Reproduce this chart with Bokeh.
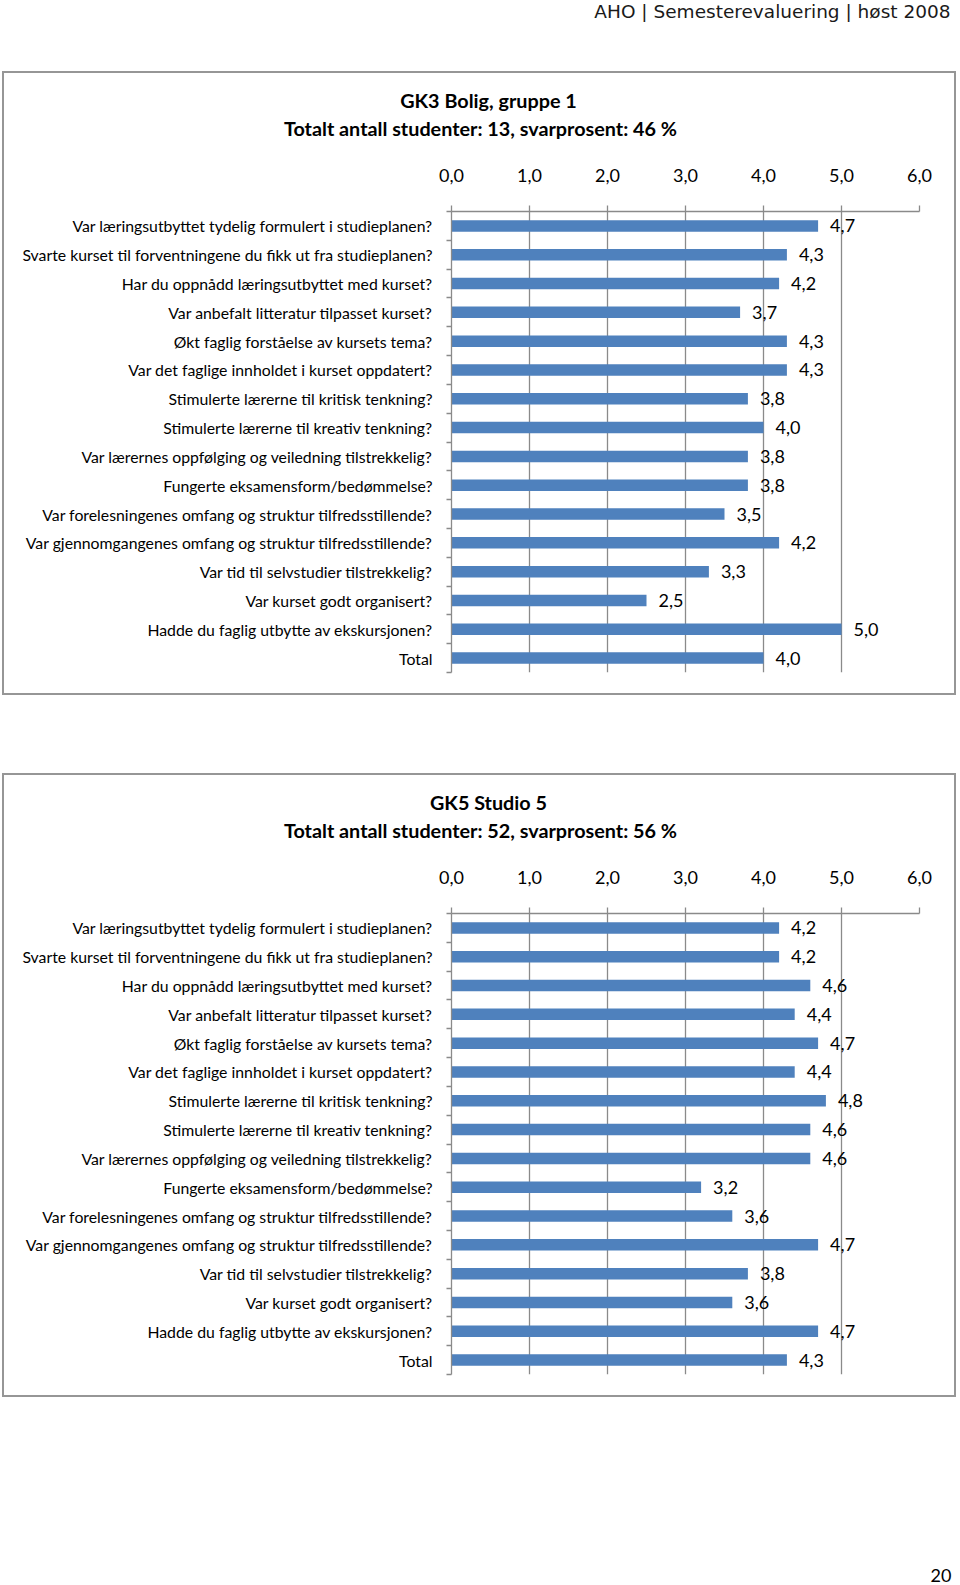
from bokeh.plotting import figure
from bokeh.models import Range1d, FixedTicker, Spacer, Label, LinearAxis
from bokeh.layouts import column
from bokeh.core.properties import value
from bokeh.embed import file_html
from bokeh.resources import INLINE

# ---------------- data ----------------
header_text = "AHO | Semesterevaluering | høst 2008"
page_number = "20"

categories = [
    "Var læringsutbyttet tydelig formulert i studieplanen?",
    "Svarte kurset til forventningene du fikk ut fra studieplanen?",
    "Har du oppnådd læringsutbyttet med kurset?",
    "Var anbefalt litteratur tilpasset kurset?",
    "Økt faglig forståelse av kursets tema?",
    "Var det faglige innholdet i kurset oppdatert?",
    "Stimulerte lærerne til kritisk tenkning?",
    "Stimulerte lærerne til kreativ tenkning?",
    "Var lærernes oppfølging og veiledning tilstrekkelig?",
    "Fungerte eksamensform/bedømmelse?",
    "Var forelesningenes omfang og struktur tilfredsstillende?",
    "Var gjennomgangenes omfang og struktur tilfredsstillende?",
    "Var tid til selvstudier tilstrekkelig?",
    "Var kurset godt organisert?",
    "Hadde du faglig utbytte av ekskursjonen?",
    "Total",
]

gk3_title = "GK3 Bolig, gruppe 1"
gk3_subtitle = "Totalt antall studenter: 13, svarprosent: 46 %"
gk3_values = [4.7, 4.3, 4.2, 3.7, 4.3, 4.3, 3.8, 4.0, 3.8, 3.8, 3.5, 4.2, 3.3, 2.5, 5.0, 4.0]

gk5_title = "GK5 Studio 5"
gk5_subtitle = "Totalt antall studenter: 52, svarprosent: 56 %"
gk5_values = [4.2, 4.2, 4.6, 4.4, 4.7, 4.4, 4.8, 4.6, 4.6, 3.2, 3.6, 4.7, 3.8, 3.6, 4.7, 4.3]

x_ticks = [0, 1, 2, 3, 4, 5, 6]
x_tick_labels = ["0,0", "1,0", "2,0", "3,0", "4,0", "5,0", "6,0"]

# ---------------- style / layout ----------------
FONT = "Lato"
BAR = "#4F81BD"
GRID = "#8a8a8a"
BOX = "#969696"

PAGE_W = 956
W, H = 954, 624                    # chart box (outer, incl. 2px css border)
B_LEFT, B_RIGHT, B_TOP, B_BOTTOM = 447, 39, 138, 25


def no_align(f):
    if "frame_align" in f.properties():
        f.frame_align = False


def fmt(v):
    return f"{v:.1f}".replace(".", ",")


def title_axis(p, text, cx, standoff):
    """A label-only axis above the chart, used to place a centred title line."""
    ax = LinearAxis(x_range_name="px", ticker=FixedTicker(ticks=[cx]))
    ax.major_label_overrides = {cx: text}
    ax.axis_line_color = None
    ax.major_tick_line_color = None
    ax.minor_tick_line_color = None
    ax.major_tick_out = 0
    ax.major_tick_in = 0
    ax.minor_tick_out = 0
    ax.minor_tick_in = 0
    ax.major_label_standoff = standoff
    ax.major_label_text_font = FONT
    ax.major_label_text_font_size = "19.8px"
    ax.major_label_text_font_style = "bold"
    ax.major_label_text_color = "black"
    p.add_layout(ax, "above")


def make_chart(title1, title2, vals):
    n = len(categories)
    ys = list(range(n))
    p = figure(width=W, height=H, output_backend="svg", toolbar_location=None,
               x_range=Range1d(0, 6), y_range=Range1d(n - 0.5, -0.5),
               x_axis_location="above", title_location=None,
               min_border_left=B_LEFT, min_border_right=B_RIGHT,
               min_border_top=B_TOP, min_border_bottom=B_BOTTOM)
    no_align(p)
    p.outline_line_color = None
    p.background_fill_color = "white"
    p.border_fill_color = "white"
    p.styles = {"border": f"2px solid {BOX}", "margin-left": "2px"}
    p.extra_x_ranges = {"px": Range1d(B_LEFT, W - B_RIGHT)}

    xa = p.xaxis[0]
    xa.ticker = FixedTicker(ticks=x_ticks)
    xa.major_label_overrides = {t: lab for t, lab in zip(x_ticks, x_tick_labels)}
    xa.major_tick_out = 6
    xa.major_tick_in = 0
    xa.minor_tick_out = 0
    xa.minor_tick_in = 0
    xa.axis_line_color = GRID
    xa.axis_line_width = 1.3
    xa.major_tick_line_color = GRID
    xa.major_tick_line_width = 1.3
    xa.major_label_text_font = FONT
    xa.major_label_text_font_size = "18px"
    xa.major_label_text_color = "black"
    xa.major_label_standoff = 24

    ya = p.yaxis[0]
    ya.ticker = FixedTicker(ticks=ys, minor_ticks=[i - 0.5 for i in range(n + 1)])
    ya.major_label_overrides = {i: c for i, c in enumerate(categories)}
    ya.major_tick_out = 0
    ya.major_tick_in = 0
    ya.minor_tick_out = 5
    ya.minor_tick_in = 0
    ya.minor_tick_line_color = GRID
    ya.minor_tick_line_width = 1.3
    ya.axis_line_color = GRID
    ya.axis_line_width = 1.3
    ya.major_label_text_font = FONT
    ya.major_label_text_font_size = "15.8px"
    ya.major_label_text_color = "black"
    ya.major_label_standoff = 14

    p.xgrid.ticker = FixedTicker(ticks=x_ticks)
    p.xgrid.grid_line_color = GRID
    p.xgrid.grid_line_width = 1.3
    p.ygrid.grid_line_color = None

    p.hbar(y=ys, left=0, right=vals, height=0.4, fill_color=BAR, line_color=None)
    p.text(x=vals, y=ys, text=[fmt(v) for v in vals], x_offset=12,
           text_align="left", text_baseline="middle",
           text_font=value(FONT), text_font_size="18px", text_color="black")

    # title lines (nearest the frame first)
    title_axis(p, title2, 476, 26)
    title_axis(p, title1, 484, 1)
    return p


def pixel_fig(w, h):
    f = figure(width=w, height=h, output_backend="svg", toolbar_location=None,
               x_range=Range1d(0, w), y_range=Range1d(h, 0),
               x_axis_location=None, y_axis_location=None, title_location=None,
               min_border=0)
    no_align(f)
    f.outline_line_color = None
    f.grid.visible = False
    return f


hdr = pixel_fig(PAGE_W, 71)
hdr.add_layout(Label(x=950, y=11, text=header_text, text_align="right",
                     text_baseline="middle", text_font="DejaVu Sans",
                     text_font_size="18.5px", text_color="#1a1a1a"))

chart1 = make_chart(gk3_title, gk3_subtitle, gk3_values)
chart2 = make_chart(gk5_title, gk5_subtitle, gk5_values)

ftr = pixel_fig(PAGE_W, 188)
ftr.add_layout(Label(x=951, y=178, text=page_number, text_align="right",
                     text_baseline="middle", text_font=FONT,
                     text_font_size="18px", text_color="black"))

root = column(hdr, chart1, Spacer(height=78), chart2, ftr)

open("out.html", "w").write(file_html(root, INLINE))
